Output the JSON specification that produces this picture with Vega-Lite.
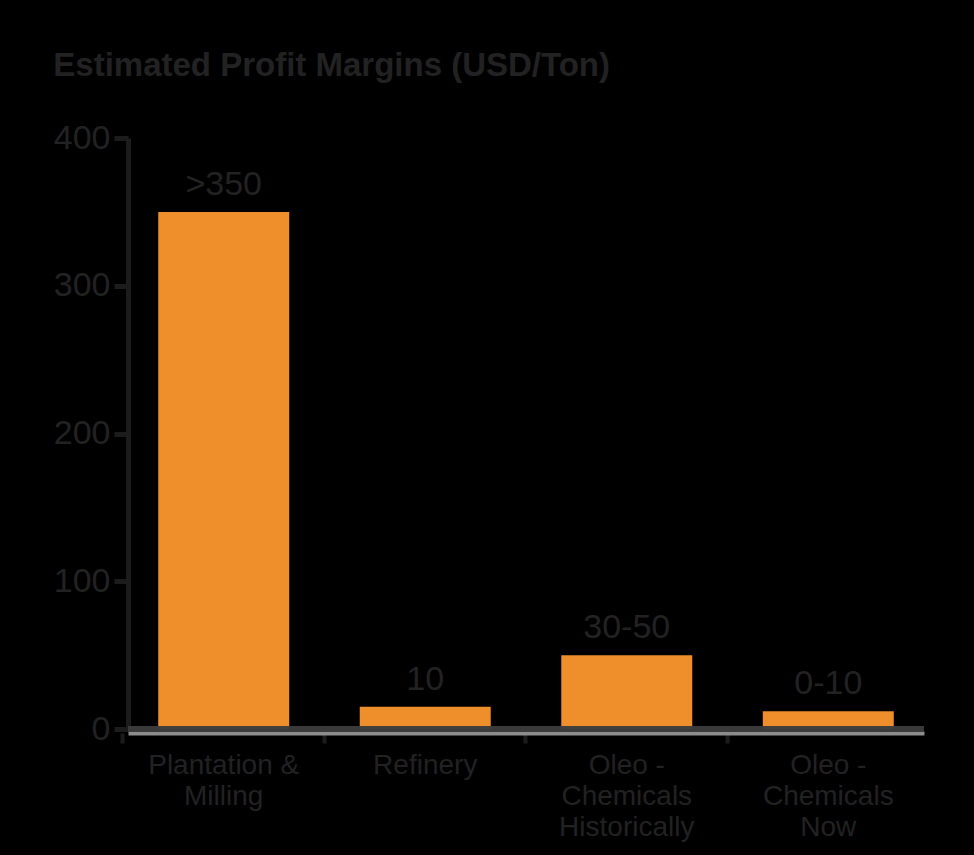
{
  "$schema": "https://vega.github.io/schema/vega-lite/v6.json",
  "width": 796,
  "height": 591,
  "autosize": {"type": "none"},
  "padding": {"left": 128, "top": 138, "right": 50, "bottom": 126},
  "background": "#000000",
  "config": {"view": {"stroke": null}, "font": "Liberation Sans"},
  "title": {
    "text": "Estimated Profit Margins (USD/Ton)",
    "anchor": "start",
    "frame": "bounds",
    "fontSize": 33,
    "fontWeight": "bold",
    "color": "#222222",
    "offset": 38
  },
  "data": {
    "values": [
      {"category": "Plantation & Milling", "value": 350, "label": ">350"},
      {"category": "Refinery", "value": 15, "label": "10"},
      {"category": "Oleo - Chemicals Historically", "value": 50, "label": "30-50"},
      {"category": "Oleo - Chemicals Now", "value": 12, "label": "0-10"}
    ]
  },
  "encoding": {
    "x": {
      "field": "category",
      "type": "nominal",
      "sort": null,
      "scale": {"paddingInner": 0.35, "paddingOuter": 0.15},
      "axis": {
        "title": null,
        "labelAngle": 0,
        "bandPosition": -0.27,
        "labelFontSize": 28,
        "labelColor": "#222222",
        "labelLineHeight": 31,
        "labelPadding": 8,
        "labelExpr": "datum.value == 'Plantation & Milling' ? ['Plantation &', 'Milling'] : datum.value == 'Oleo - Chemicals Historically' ? ['Oleo -', 'Chemicals', 'Historically'] : datum.value == 'Oleo - Chemicals Now' ? ['Oleo -', 'Chemicals', 'Now'] : datum.value",
        "domainColor": "#8c8c8c",
        "domainWidth": 4,
        "offset": 4,
        "tickColor": "#1c1c1c",
        "tickWidth": 4,
        "tickSize": 10
      }
    },
    "y": {
      "field": "value",
      "type": "quantitative",
      "scale": {"domain": [0, 400]},
      "axis": {
        "title": null,
        "values": [0, 100, 200, 300, 400],
        "grid": false,
        "labelFontSize": 34,
        "labelColor": "#222222",
        "labelPadding": 4,
        "domainColor": "#1c1c1c",
        "domainWidth": 5,
        "tickColor": "#1c1c1c",
        "tickWidth": 5,
        "tickSize": 14
      }
    }
  },
  "layer": [
    {"mark": {"type": "bar", "color": "#EE8F2C"}},
    {
      "mark": {"type": "text", "baseline": "bottom", "dy": -10, "fontSize": 34, "color": "#222222"},
      "encoding": {"text": {"field": "label"}}
    },
    {
      "mark": {"type": "rule", "color": "#3d3d3d", "opacity": 0.56, "strokeWidth": 6},
      "encoding": {"y": {"datum": 0}, "x": null}
    }
  ]
}
